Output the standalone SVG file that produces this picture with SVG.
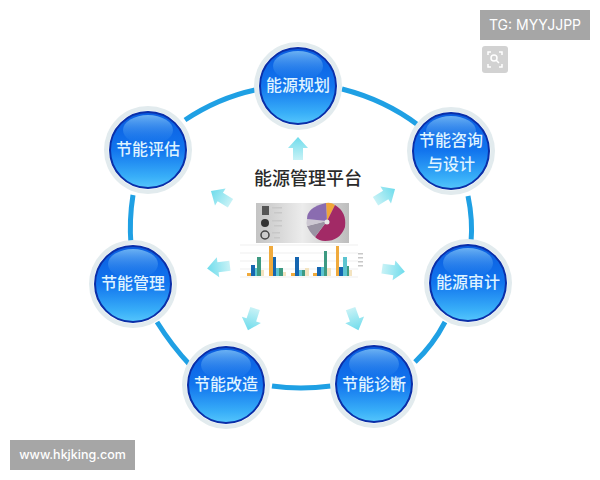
<svg xmlns="http://www.w3.org/2000/svg" width="600" height="480" viewBox="0 0 600 480">
<defs>
<linearGradient id="ball" x1="0" y1="0" x2="0" y2="1"><stop offset="0" stop-color="#0a5ce0"/><stop offset="0.5" stop-color="#1275ee"/><stop offset="0.85" stop-color="#38aef8"/><stop offset="1" stop-color="#55c6fc"/></linearGradient>
<linearGradient id="gloss" x1="0" y1="0" x2="0" y2="1"><stop offset="0" stop-color="#7cc0f6" stop-opacity="0.85"/><stop offset="1" stop-color="#2a86ee" stop-opacity="0.05"/></linearGradient>
<linearGradient id="card" x1="0" y1="0" x2="1" y2="0"><stop offset="0" stop-color="#c4c4c4"/><stop offset="0.5" stop-color="#ececec"/><stop offset="1" stop-color="#bdbdbd"/></linearGradient>
<linearGradient id="arr" x1="0" y1="0" x2="0" y2="1"><stop offset="0" stop-color="#6fdcec"/><stop offset="1" stop-color="#c8f2f6"/></linearGradient>
<g id="node"><circle r="44" fill="#e2ebee"/><circle r="39.500" fill="#fff"/><circle r="38" fill="url(#ball)" stroke="#0a2fa8" stroke-width="2"/><ellipse cy="-20" rx="25" ry="15" fill="url(#gloss)"/></g>
<path id="a" d="M-5 10V-2H-10L0-13 10-2H5V10Z" fill="url(#arr)"/>
</defs>
<style>
.n{font:500 16px "Noto Sans CJK SC","Liberation Sans",sans-serif;fill:#dff3ff;text-anchor:middle}
.ring{fill:none;stroke:#1fa0e4;stroke-width:5}
.l{fill:#c8c8c8}
</style>
<rect width="600" height="480" fill="#fff"/>
<g id="connectors">
<path class="ring" d="M342 89Q385 100 418 125"/>
<path class="ring" d="M468 196Q473 220 471 243"/>
<path class="ring" d="M445 322Q433 345 415 362"/>
<path class="ring" d="M272 386Q300 390 331 386"/>
<path class="ring" d="M190 365Q172 346 157 322"/>
<path class="ring" d="M131 245Q129 220 133 195"/>
<path class="ring" d="M185 120Q218 98 255 90"/>
<use href="#a" transform="translate(298,150)"/>
<use href="#a" transform="translate(384,196) rotate(58)"/>
<use href="#a" transform="translate(392,270) rotate(98)"/>
<use href="#a" transform="translate(354,318) rotate(160)"/>
<use href="#a" transform="translate(252,318) rotate(198)"/>
<use href="#a" transform="translate(220,267) rotate(-97)"/>
<use href="#a" transform="translate(222,198) rotate(-58)"/>
</g>
<g id="n1"><use href="#node" transform="translate(298,86)"/><text class="n" x="298" y="91">能源规划</text></g>
<g id="n2"><use href="#node" transform="translate(451,151)"/><text class="n" x="451" y="146">节能咨询</text><text class="n" x="451" y="170">与设计</text></g>
<g id="n3"><use href="#node" transform="translate(468,283)"/><text class="n" x="468" y="288">能源审计</text></g>
<g id="n4"><use href="#node" transform="translate(374,384)"/><text class="n" x="374" y="390">节能诊断</text></g>
<g id="n5"><use href="#node" transform="translate(226,385)"/><text class="n" x="226" y="390">节能改造</text></g>
<g id="n6"><use href="#node" transform="translate(133,284)"/><text class="n" x="133" y="289">节能管理</text></g>
<g id="n7"><use href="#node" transform="translate(148,150)"/><text class="n" x="148" y="155">节能评估</text></g>
<g id="center">
<text x="308" y="185" style="font:500 18px 'Noto Sans CJK SC','Liberation Sans',sans-serif;fill:#2a2a2a;text-anchor:middle">能源管理平台</text>
<rect x="256" y="203" width="93" height="40" fill="url(#card)"/>
<path d="M327 221L326 203Q331 202 335 205Z" fill="#f0a63a"/>
<path d="M327 221L335 205Q347 212 345 227Q340 241 325 241Q319 241 315 237Z" fill="#a22a66"/>
<path d="M327 221L315 237Q310 233 307 226Z" fill="#9a93a3"/>
<path d="M327 221L307 226Q306 223 307 219Z" fill="#cdc8d2"/>
<path d="M327 221L307 219Q307 207 326 203Z" fill="#8a6cb0"/>
<circle cx="327" cy="222" r="2.500" fill="#e8e8e8"/>
<rect x="262" y="206" width="7" height="9" fill="#555"/><circle cx="265" cy="223" r="4" fill="#333"/><circle cx="265" cy="235" r="4" fill="none" stroke="#444" stroke-width="1.500"/>
<rect class="l" x="272" y="207" width="10" height="1.500"/><rect class="l" x="274" y="212" width="8" height="1.500"/><rect class="l" x="272" y="220" width="10" height="1.500"/><rect class="l" x="274" y="225" width="8" height="1.500"/><rect class="l" x="272" y="232" width="8" height="1.500"/><rect class="l" x="274" y="237" width="6" height="1.500"/>
<path d="M240 245H358M240 253H358M240 261H358M240 269H358M240 277H358" stroke="#efefef" stroke-width="1"/>
<rect x="247" y="273" width="4" height="3" fill="#f0aa3c"/><rect x="251" y="265" width="4" height="11" fill="#1565b0"/><rect x="255" y="268" width="2" height="8" fill="#5cc4d0"/><rect x="257" y="257" width="4" height="19" fill="#3d9a82"/><rect x="261" y="270" width="3" height="6" fill="#f3e3c0"/>
<rect x="269" y="246" width="4" height="30" fill="#f0aa3c"/><rect x="273" y="257" width="3" height="19" fill="#1565b0"/><rect x="276" y="268" width="3" height="8" fill="#5cc4d0"/><rect x="279" y="268" width="4" height="8" fill="#3d9a82"/><rect x="283" y="272" width="3" height="4" fill="#f3e3c0"/>
<rect x="291" y="273" width="4" height="3" fill="#f0aa3c"/><rect x="295" y="257" width="4" height="19" fill="#1565b0"/><rect x="299" y="270" width="3" height="6" fill="#5cc4d0"/><rect x="302" y="270" width="3" height="6" fill="#3d9a82"/><rect x="305" y="268" width="4" height="8" fill="#f3e3c0"/>
<rect x="313" y="273" width="4" height="3" fill="#f0aa3c"/><rect x="317" y="267" width="4" height="9" fill="#1565b0"/><rect x="321" y="267" width="3" height="9" fill="#5cc4d0"/><rect x="324" y="251" width="3" height="25" fill="#3d9a82"/><rect x="327" y="268" width="4" height="8" fill="#f3e3c0"/>
<rect x="336" y="246" width="3" height="30" fill="#f0aa3c"/><rect x="339" y="267" width="4" height="9" fill="#1565b0"/><rect x="343" y="257" width="4" height="19" fill="#5cc4d0"/><rect x="347" y="266" width="2" height="10" fill="#3d9a82"/><rect x="349" y="270" width="3" height="6" fill="#f3e3c0"/>
<rect class="l" x="358" y="253" width="5" height="1.500"/><rect class="l" x="358" y="257" width="5" height="1.500"/><rect class="l" x="358" y="261" width="5" height="1.500"/><rect class="l" x="358" y="265" width="5" height="1.500"/>
</g>
<g id="badge-tg"><rect x="480" y="10" width="110" height="30" fill="#a6a6a6"/><text x="535" y="30" style="font:14px Inter,'Liberation Sans',sans-serif;fill:#fff;text-anchor:middle">TG: MYYJJPP</text></g>
<g id="icon"><rect x="482" y="46" width="26" height="27" rx="3" fill="#d2d2d2"/><path d="M488 55V52H491M499 52H502V55M502 64V67H499M491 67H488V64" fill="none" stroke="#fff" stroke-width="1.500"/><circle cx="494" cy="58" r="3" fill="none" stroke="#fff" stroke-width="1.500"/><path d="M496 60L499 63" stroke="#fff" stroke-width="1.500"/></g>
<g id="badge-url"><rect x="10" y="440" width="125" height="30" fill="#a6a6a6"/><text x="72.500" y="459" style="font:500 12.500px Inter,'Liberation Sans',sans-serif;fill:#fff;text-anchor:middle">www.hkjking.com</text></g>
</svg>
